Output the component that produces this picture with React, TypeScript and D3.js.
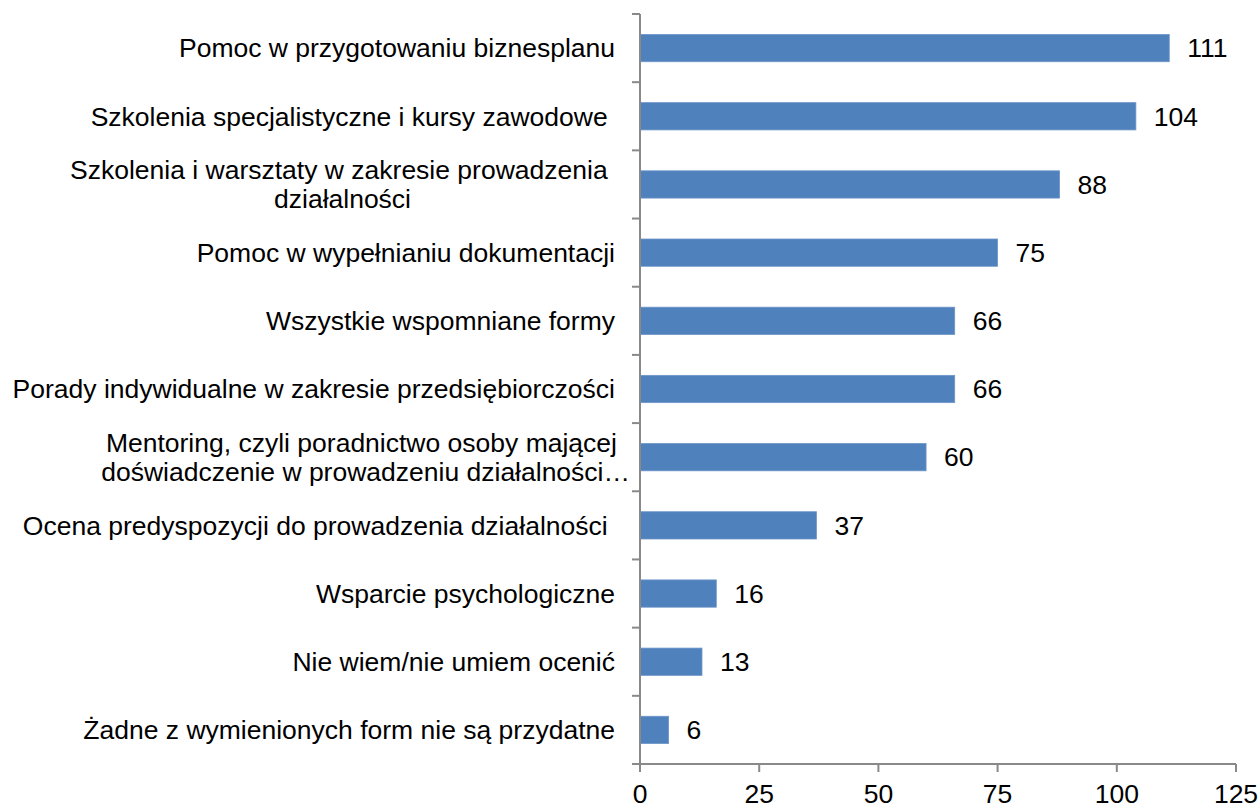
import React, { useMemo } from "react";
import * as d3 from "d3";

const categories: string[] = [
  "Pomoc w przygotowaniu biznesplanu",
  "Szkolenia specjalistyczne i kursy zawodowe ",
  "Szkolenia i warsztaty w zakresie prowadzenia \ndziałalności",
  "Pomoc w wypełnianiu dokumentacji",
  "Wszystkie wspomniane formy",
  "Porady indywidualne w zakresie przedsiębiorczości",
  "Mentoring, czyli poradnictwo osoby mającej\ndoświadczenie w prowadzeniu działalności…",
  "Ocena predyspozycji do prowadzenia działalności ",
  "Wsparcie psychologiczne",
  "Nie wiem/nie umiem ocenić",
  "Żadne z wymienionych form nie są przydatne",
];
const values: number[] = [111, 104, 88, 75, 66, 66, 60, 37, 16, 13, 6];
const xTicks: number[] = [0, 25, 50, 75, 100, 125];

const W = 1258;
const H = 806;
const FONT = "Liberation Sans, Arial, sans-serif";
const FS = 26.5;

function measure(text: string): number {
  const c = document.createElement("canvas");
  const ctx = c.getContext("2d")!;
  ctx.font = `${FS}px "Liberation Sans", Arial, sans-serif`;
  return ctx.measureText(text).width;
}

export default function App() {
  const x = d3.scaleLinear().domain([0, 125]).range([640, 1236]);
  const y = d3
    .scaleBand<string>()
    .domain(categories)
    .range([14, 764])
    .paddingInner(0.6)
    .paddingOuter(0.3);
  const step = y.step();
  const axisColor = "#898989";
  const labelRight = 615;

  const labelLayouts = useMemo(
    () =>
      categories.map((c) => {
        const lines = c.split("\n");
        const widths = lines.map(measure);
        const maxW = Math.max(...widths);
        return { lines, widths, maxW };
      }),
    []
  );

  const boundaries = d3.range(categories.length + 1).map((i) => 14 + i * step);

  return (
    <svg
      width={W}
      height={H}
      style={{ position: "absolute", left: 0, top: 0, background: "#fff" }}
      fontFamily={FONT}
      fontSize={FS}
    >
      {categories.map((c, i) => (
        <rect
          key={c}
          x={x(0)}
          y={y(c)!}
          width={x(values[i]) - x(0)}
          height={y.bandwidth()}
          fill="#4F81BD"
          stroke="#6D95C8"
          strokeWidth={0.8}
        />
      ))}
      {categories.map((c, i) => (
        <text
          key={"v" + c}
          x={x(values[i]) + 18}
          y={y(c)! + y.bandwidth() / 2}
          dy="0.35em"
          fill="#000"
        >
          {values[i]}
        </text>
      ))}
      {categories.map((c, i) => {
        const { lines, widths, maxW } = labelLayouts[i];
        const cy = y(c)! + y.bandwidth() / 2;
        const lh = 29;
        if (lines.length === 1) {
          return (
            <text
              key={"l" + c}
              x={labelRight}
              y={cy}
              dy="0.35em"
              textAnchor="end"
              style={{ whiteSpace: "pre" }}
              fill="#000"
            >
              {lines[0]}
            </text>
          );
        }
        const truncated = lines[lines.length - 1].endsWith("…");
        return (
          <text key={"l" + c} textAnchor="middle" style={{ whiteSpace: "pre" }} fill="#000">
            {lines.map((ln, j) => {
              // truncated label: Excel lets the lines spill slightly past the label area
              const cx = truncated
                ? (j === lines.length - 1 ? 630 : 617) - widths[j] / 2
                : labelRight - maxW / 2;
              return (
                <tspan
                  key={j}
                  x={cx}
                  y={cy + (j - (lines.length - 1) / 2) * lh}
                  dy="0.35em"
                >
                  {ln}
                </tspan>
              );
            })}
          </text>
        );
      })}
      {/* y axis */}
      <line x1={640} x2={640} y1={14} y2={764} stroke={axisColor} strokeWidth={2} />
      {boundaries.map((b, i) => (
        <line key={"yt" + i} x1={632} x2={640} y1={b} y2={b} stroke={axisColor} strokeWidth={2} />
      ))}
      {/* x axis */}
      <line x1={639} x2={x(125)} y1={764} y2={764} stroke={axisColor} strokeWidth={2} />
      {xTicks.map((t) => (
        <g key={"xt" + t}>
          <line x1={x(t)} x2={x(t)} y1={764} y2={772} stroke={axisColor} strokeWidth={2} />
          <text x={x(t)} y={803} textAnchor="middle" fill="#000">
            {t}
          </text>
        </g>
      ))}
    </svg>
  );
}
